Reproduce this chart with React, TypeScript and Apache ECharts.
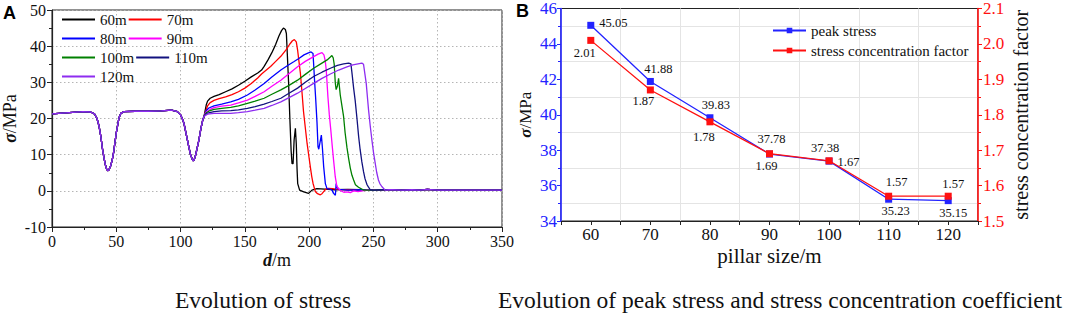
import React, { useEffect, useRef } from "react";
import * as echarts from "echarts";

const serif = "Liberation Serif";
const sans = "Liberation Sans";

// ---------- Panel A: stress along distance d (m) ----------
const stressSeriesNames = ["60m", "70m", "80m", "90m", "100m", "110m", "120m"];
const stressSeriesColors = ["#000000", "#ff0000", "#0000ff", "#ff00ff", "#008000", "#12127f", "#8e2cf0"];

// shared part of all curves (d, sigma)
const sharedStart: number[][] = [
  [0, 21.3], [8, 21.5], [16, 21.7], [24, 21.9], [30, 21.8], [33, 21.3], [35, 20], [36.5, 18], [38, 15],
  [39.3, 11.5], [40.5, 9], [41.5, 7.2], [42.5, 6], [43.3, 5.6], [44.3, 5.8], [45.5, 6.8], [46.8, 8.5],
  [48, 10.8], [49, 13.5], [50, 16], [51, 18], [52.2, 20.3], [53.5, 21.4], [56, 21.9], [65, 22], [75, 22],
  [85, 22.1], [93, 22.3], [97.5, 21.9], [100, 21], [101.5, 19.8], [102.6, 18.7], [104, 16.3], [105.3, 14.1],
  [106.5, 12], [107.8, 9.9], [109.6, 8.3], [110.5, 8.5], [111.7, 9.9], [113, 12], [114.3, 14.1], [115.2, 16],
  [116.1, 17.7], [117.2, 19.5], [118.2, 20.5],
];

const flatTail: number[][] = [
  [265, 0.3], [272, 0.2], [280, 0.3], [286, 0.2], [292, 0.4], [300, 0.2], [315, 0.2], [330, 0.2], [350, 0.2],
];

const s60: number[][] = [
  [119, 22], [120, 23.8], [121, 24.8], [123, 25.6], [126, 26.1], [130, 26.6], [135, 27.4], [140, 28.2],
  [145, 29.2], [150, 30.3], [155, 31.5], [160, 32.6], [163, 33.4], [165, 34.4], [168, 36.2], [171, 38.2],
  [174, 40.5], [176.5, 42.8], [178.5, 44.3], [180, 45], [181.5, 44.6], [182.3, 43.5], [183, 38], [184, 30],
  [185, 20], [186, 11], [186.7, 7.5], [187.5, 7.5], [188.3, 14], [189.3, 17.3], [190, 13], [190.6, 6],
  [191.1, 2], [192.6, 0.2], [195.8, -0.3], [199.6, -0.7], [202.2, 0.2], [206, 0.6], [212, 0.5], [220, 0.3],
  [230, 0.4], [240, 0.3], [250, 0.3], [258, 0.3],
];
const s70: number[][] = [
  [119, 21.5], [120, 22.5], [121, 23.5], [123, 24.4], [126, 25], [130, 25.5], [135, 26], [140, 26.6],
  [145, 27.4], [150, 28.4], [155, 29.7], [160, 31.2], [163, 32.3], [166, 33.2], [170, 34.4], [174, 35.8],
  [178, 37.2], [182, 39], [185, 40.6], [187, 41.5], [188.5, 41.8], [190, 41.2], [191, 39], [192, 36],
  [193.2, 32.5], [194.5, 27], [195.6, 22], [197, 17.5], [198.4, 13.1], [200, 9], [200.9, 6.7], [202, 4],
  [203, 2.1], [204.8, -0.2], [206.5, -0.8], [208.7, -1.1], [210, -0.8], [211.3, -0.2], [213, 0.5],
  [215.1, 0.7], [218, 0.6], [222, 0.4], [230, 0.3], [240, 0.3], [250, 0.2], [258, 0.3],
];
const s80: number[][] = [
  [119, 21.3], [120, 22.2], [122, 22.9], [126, 23.5], [132, 24], [139, 24.6], [145, 25.3], [152, 26.5],
  [158, 27.9], [165, 29.7], [171, 31.5], [178, 33.4], [183, 34.6], [188, 35.7], [192, 36.6], [196, 37.6],
  [199, 38.1], [201.5, 38.4], [203, 38], [203.5, 35], [204.3, 30], [205, 26], [206.1, 19], [206.9, 12.2],
  [207.5, 11.5], [208.5, 13.5], [209.5, 15.4], [210.3, 12], [211.3, 6.7], [212.6, 2], [213.9, 0.6],
  [216, 0.5], [217.8, 0.2], [219, -0.7], [220.4, -1.2], [221, 2], [221.6, 1], [223, 0.4], [230, 0.2],
  [240, 0.3], [250, 0.2], [258, 0.3],
];
const s90: number[][] = [
  [119, 21.2], [120, 21.8], [123, 22.5], [126, 23], [132, 23.4], [139, 23.7], [145, 24.3], [152, 25.1],
  [158, 26.1], [165, 27.4], [171, 28.9], [178, 30.6], [184, 32.3], [191, 34.3], [197, 35.8], [203.5, 37.1],
  [207, 37.8], [210, 38.2], [211.5, 37.6], [212.5, 36], [213.3, 33.4], [214.6, 26], [215.7, 21],
  [216.8, 17], [217.8, 13], [219, 8.5], [220.3, 3.9], [221.6, 1.2], [224.2, 0.1], [227, -0.4],
  [229.4, -0.3], [232, -0.5], [234.6, 0], [238, -0.2], [245, 0.2], [252, 0.3], [258, 0.2],
];
const s100: number[][] = [
  [119, 21], [120, 21.6], [123, 22.2], [126, 22.5], [132, 22.8], [139, 23.1], [145, 23.5], [152, 24.2],
  [158, 24.8], [165, 25.6], [171, 26.7], [178, 27.9], [184, 29.1], [191, 30.6], [197, 32.2], [203.5, 33.9],
  [209, 35.1], [214, 36.2], [216.5, 37], [217.7, 37.4], [218.7, 36.8], [219.5, 35], [220.3, 30], [221, 28],
  [222, 29], [222.9, 31.1], [223.5, 29], [224.2, 26.5], [225.5, 23.5], [226.8, 20.5], [228, 16],
  [229.4, 12], [230.7, 9], [232, 6.3], [233.3, 4.3], [234.6, 3], [236, 1.7], [238.4, 1], [242.3, 0.2],
  [250, 0.2], [258, 0.3],
];
const s110: number[][] = [
  [119, 21], [121, 21.5], [126, 21.9], [132, 22.1], [139, 22.2], [145, 22.4], [152, 22.8], [158, 23.3],
  [165, 24], [171, 24.7], [178, 25.6], [184, 26.9], [191, 28.4], [197, 30], [203.5, 31.6], [210, 32.8],
  [216.5, 33.9], [222, 34.7], [226.8, 35.1], [230.7, 35.3], [232.5, 35.1], [233.5, 32], [234.6, 28.4],
  [235.8, 25], [237.2, 20], [238.5, 15], [239.7, 11.3], [241, 8], [242.3, 5.3], [243.5, 3.3], [244.9, 1.8],
  [246.2, 1], [247.5, 0.3], [250, 0.2], [258, 0.3],
];
const s120: number[][] = [
  [119, 20.8], [121, 21.2], [126, 21.4], [132, 21.4], [139, 21.4], [145, 21.6], [152, 21.9], [158, 22.3],
  [165, 22.8], [171, 23.6], [178, 24.6], [184, 25.7], [191, 27], [197, 28.3], [203.5, 29.7], [210, 31.1],
  [216.5, 32.3], [223, 33.4], [229.4, 34.3], [234, 34.8], [238, 35.1], [241, 35.3], [242.3, 35],
  [243.3, 32.5], [244.4, 29.7], [245.3, 26], [246.2, 22.4], [247.5, 18], [248.8, 14.1], [250.1, 10.5],
  [251.4, 7.6], [252.6, 5], [253.9, 3], [255, 2], [256.5, 1.2], [259.1, 0.2], [262, 0.3],
];
const stressTails = [s60, s70, s80, s90, s100, s110, s120];

// ---------- Panel B: peak stress and stress concentration factor ----------
const pillarSizes = [60, 70, 80, 90, 100, 110, 120];
const peakStress = [45.05, 41.88, 39.83, 37.78, 37.38, 35.23, 35.15];
const concentrationFactor = [2.01, 1.87, 1.78, 1.69, 1.67, 1.57, 1.57];

// label placement (style only)
const peakLabelPlace: [string, number, number][] = [
  ["right", 0, -2], ["top", 8, 3], ["top", 6, 2], ["top", 2, 0], ["top", -4, 2], ["bottom", 7, -3], ["bottom", 5, -3],
];
const factorLabelPlace: [string, number, number][] = [
  ["bottom", -6, -2], ["bottom", -7, -4], ["bottom", -6, 0], ["bottom", -3, -3], ["right", 0, 1], ["top", 8, 1], ["top", 5, 3],
];

const BLUE = "#2323ff";
const RED = "#ff1010";

export default function App() {
  const ref = useRef<HTMLDivElement>(null);

  useEffect(() => {
    if (!ref.current) return;
    const chart = echarts.init(ref.current, undefined, { renderer: "svg" });

    const stressSeries = stressSeriesNames.map((name, i) => ({
      name, type: "line", xAxisIndex: 0, yAxisIndex: 0, symbol: "none",
      data: [...sharedStart, ...stressTails[i], ...flatTail],
      lineStyle: { color: stressSeriesColors[i], width: 1.3 },
      itemStyle: { color: stressSeriesColors[i] },
      z: 2 + i,
    }));

    const labelStyle = { fontSize: 12.5, fontFamily: serif, color: "#111" };
    const richName = (size: number) => ({
      fontSize: size, fontFamily: serif, color: "#111",
      rich: { b: { fontSize: size, fontFamily: serif, fontWeight: "bold", fontStyle: "italic", color: "#111" } },
    });

    const option: any = {
      animation: false,
      backgroundColor: "#ffffff",
      textStyle: { fontFamily: serif },
      grid: [
        { left: 51, top: 10, width: 451, height: 217, show: true, borderColor: "#222", borderWidth: 1, backgroundColor: "transparent" },
        { left: 561, top: 8, width: 417, height: 213, show: true, borderColor: "#222", borderWidth: 1, backgroundColor: "transparent" },
      ],
      xAxis: [
        {
          type: "value", gridIndex: 0, min: 0, max: 350, interval: 50,
          axisLine: { show: true, onZero: false, lineStyle: { color: "#222", width: 1.2 } },
          axisTick: { show: true, inside: false, length: 5, lineStyle: { color: "#222" } },
          minorTick: { show: true, splitNumber: 2, length: 3, lineStyle: { color: "#222" } },
          splitLine: { show: true, lineStyle: { color: "#b5b5b5", type: [1.5, 2.5], width: 1 } },
          axisLabel: { fontSize: 16, fontFamily: serif, color: "#111", margin: 6 },
          name: "{b|d}/m", nameLocation: "middle", nameGap: 24, nameMoveOverlap: false,
          nameTextStyle: richName(18),
        },
        {
          type: "value", gridIndex: 1, min: 55, max: 125, interval: 5,
          axisLine: { show: true, onZero: false, lineStyle: { color: "#222", width: 1.2 } },
          axisTick: { show: true, inside: false, length: 4, lineStyle: { color: "#222" } },
          splitLine: { show: false },
          axisLabel: {
            fontSize: 17, fontFamily: serif, color: "#111", margin: 5,
            formatter: (v: number) => (Math.round(v) % 10 === 0 ? String(Math.round(v)) : ""),
          },
          name: "pillar size/m", nameLocation: "middle", nameGap: 24, nameMoveOverlap: false,
          nameTextStyle: { fontSize: 21, fontFamily: serif, color: "#111" },
        },
        {
          type: "value", gridIndex: 1, min: 55, max: 125, interval: 10, show: true,
          axisLine: { show: false }, axisTick: { show: false }, axisLabel: { show: false },
          splitLine: { show: true, lineStyle: { color: "#e4e4e4", width: 1 } },
        },
      ],
      yAxis: [
        {
          type: "value", gridIndex: 0, min: -10, max: 50, interval: 10,
          axisLine: { show: true, onZero: false, lineStyle: { color: "#222", width: 1.2 } },
          axisTick: { show: true, inside: false, length: 5, lineStyle: { color: "#222" } },
          minorTick: { show: true, splitNumber: 2, length: 3, lineStyle: { color: "#222" } },
          splitLine: { show: true, lineStyle: { color: "#b5b5b5", type: [1.5, 2.5], width: 1 } },
          axisLabel: { fontSize: 16, fontFamily: serif, color: "#111", margin: 6 },
          name: "{b|σ}/MPa", nameLocation: "middle", nameGap: 33, nameMoveOverlap: false,
          nameTextStyle: richName(18),
        },
        {
          type: "value", gridIndex: 1, min: 34, max: 46, interval: 2, position: "left",
          axisLine: { show: true, onZero: false, lineStyle: { color: BLUE, width: 1.6 } },
          axisTick: { show: true, inside: false, length: 4, lineStyle: { color: BLUE } },
          minorTick: { show: true, splitNumber: 2, length: 3, lineStyle: { color: BLUE } },
          splitLine: { show: false },
          minorSplitLine: { show: true, lineStyle: { color: "#e4e4e4", width: 1 } },
          axisLabel: { fontSize: 17, fontFamily: serif, color: BLUE, margin: 4 },
          name: "{b|σ}/MPa", nameLocation: "middle", nameGap: 27, nameMoveOverlap: false,
          nameTextStyle: richName(17),
        },
        {
          type: "value", gridIndex: 1, min: 1.5, max: 2.1, interval: 0.1, position: "right",
          axisLine: { show: true, onZero: false, lineStyle: { color: RED, width: 1.6 } },
          axisTick: { show: true, inside: false, length: 4, lineStyle: { color: RED } },
          minorTick: { show: true, splitNumber: 2, length: 3, lineStyle: { color: RED } },
          splitLine: { show: false },
          axisLabel: {
            fontSize: 17, fontFamily: serif, color: RED, margin: 5,
            formatter: (v: number) => v.toFixed(1),
          },
          name: "stress concentration factor", nameLocation: "middle", nameGap: 33, nameMoveOverlap: false,
          nameTextStyle: { fontSize: 20, fontFamily: serif, color: "#111" },
        },
      ],
      legend: [
        {
          data: stressSeriesNames.map((n, i) => ({ name: n, icon: "rect", itemStyle: { color: stressSeriesColors[i] } })),
          left: 57, top: 6, width: 160, orient: "horizontal",
          itemWidth: 33, itemHeight: 2, itemGap: 2,
          textStyle: { fontSize: 15, fontFamily: serif, color: "#111", lineHeight: 17 },
        },
        {
          data: ["peak stress", "stress concentration factor"], left: 767, top: 17, orient: "vertical",
          itemWidth: 33, itemHeight: 7, itemGap: 3,
          textStyle: { fontSize: 15, fontFamily: serif, color: "#111", lineHeight: 17 },
        },
      ],
      series: [
        ...stressSeries,
        {
          name: "peak stress", type: "line", xAxisIndex: 1, yAxisIndex: 1,
          symbol: "rect", symbolSize: 7,
          lineStyle: { color: BLUE, width: 1.3 }, itemStyle: { color: BLUE },
          data: pillarSizes.map((x, i) => ({
            value: [x, peakStress[i]],
            label: {
              show: true, position: peakLabelPlace[i][0],
              offset: [peakLabelPlace[i][1], peakLabelPlace[i][2]],
              formatter: peakStress[i].toFixed(2), ...labelStyle,
            },
          })),
          z: 10,
        },
        {
          name: "stress concentration factor", type: "line", xAxisIndex: 1, yAxisIndex: 2,
          symbol: "rect", symbolSize: 7,
          lineStyle: { color: RED, width: 1.3 }, itemStyle: { color: RED },
          data: pillarSizes.map((x, i) => ({
            value: [x, concentrationFactor[i]],
            label: {
              show: true, position: factorLabelPlace[i][0],
              offset: [factorLabelPlace[i][1], factorLabelPlace[i][2]],
              formatter: concentrationFactor[i].toFixed(2), ...labelStyle,
            },
          })),
          z: 11,
        },
      ],
      graphic: [
        { type: "text", left: 3, top: 4, style: { text: "A", fontSize: 18, fontWeight: "bold", fontFamily: sans, fill: "#000" } },
        { type: "text", left: 516, top: 2, style: { text: "B", fontSize: 18, fontWeight: "bold", fontFamily: sans, fill: "#000" } },
        {
          type: "text", x: 263, y: 300,
          style: { text: "Evolution of stress", fontSize: 23.5, fontFamily: serif, fill: "#111", align: "center", verticalAlign: "middle", textAlign: "center", textVerticalAlign: "middle" },
        },
        {
          type: "text", x: 780, y: 300,
          style: { text: "Evolution of peak stress and stress concentration coefficient", fontSize: 23.5, fontFamily: serif, fill: "#111", align: "center", verticalAlign: "middle", textAlign: "center", textVerticalAlign: "middle" },
        },
      ],
    };

    chart.setOption(option);
    return () => chart.dispose();
  }, []);

  return (
    <div ref={ref} style={{ position: "absolute", left: 0, top: 0, width: 1065, height: 315, background: "#fff" }} />
  );
}
